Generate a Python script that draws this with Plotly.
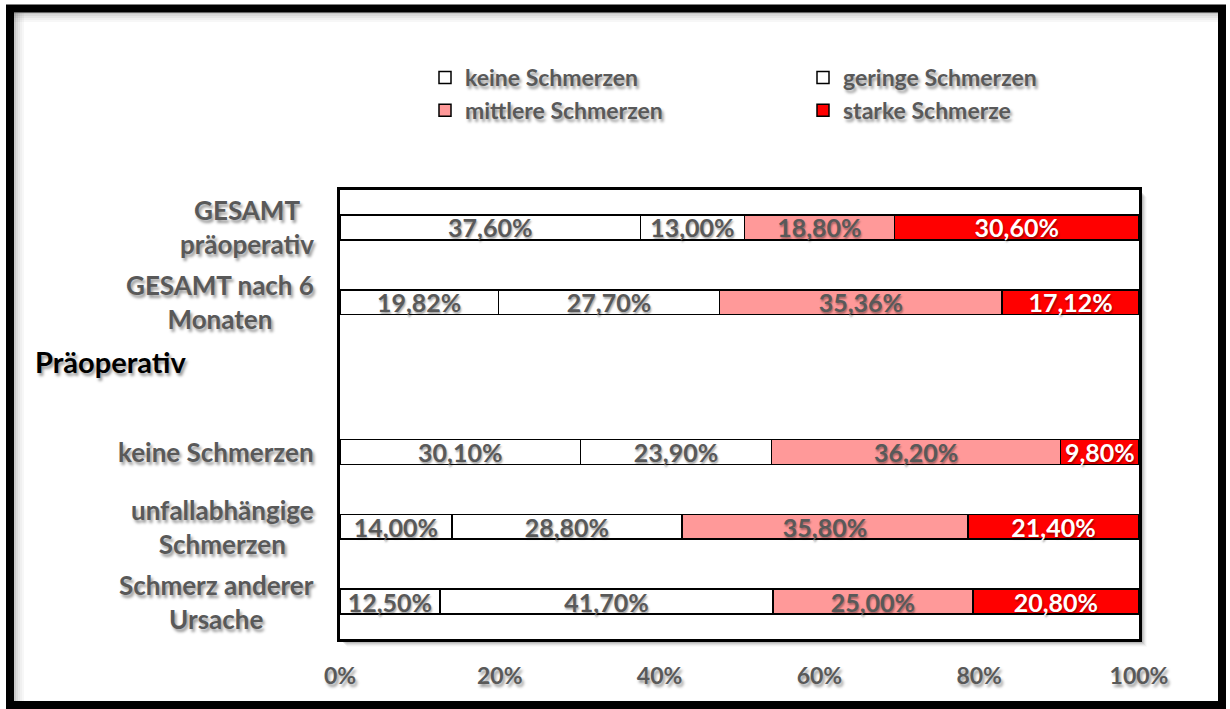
import plotly.graph_objects as go

# ---- data -------------------------------------------------------------
categories = [
    "GESAMT präoperativ",
    "GESAMT nach 6 Monaten",
    "Präoperativ",
    "keine Schmerzen",
    "unfallabhängige Schmerzen",
    "Schmerz anderer Ursache",
]
category_labels = [
    "GESAMT<br>präoperativ",
    "GESAMT nach 6<br>Monaten",
    "Präoperativ",
    "keine Schmerzen",
    "unfallabhängige<br>Schmerzen",
    "Schmerz anderer<br>Ursache",
]

keine_schmerzen = [37.60, 19.82, None, 30.10, 14.00, 12.50]
geringe_schmerzen = [13.00, 27.70, None, 23.90, 28.80, 41.70]
mittlere_schmerzen = [18.80, 35.36, None, 36.20, 35.80, 25.00]
starke_schmerzen = [30.60, 17.12, None, 9.80, 21.40, 20.80]

series_names = ["keine Schmerzen", "geringe Schmerzen", "mittlere Schmerzen", "starke Schmerze"]
series_values = [keine_schmerzen, geringe_schmerzen, mittlere_schmerzen, starke_schmerzen]

tick_values = [0, 20, 40, 60, 80, 100]
tick_labels = ["0%", "20%", "40%", "60%", "80%", "100%"]

# ---- style --------------------------------------------------------------
W, H = 1230, 709
L, R, T, B = 340, 1139, 190, 639          # plot area in pixels
PW, PH = R - L, B - T

FONT = "Lato, 'Open Sans', sans-serif"
GRAY = "#595959"
SHADOW = "2px 3px 3px rgba(0,0,0,0.40)"
fill_colors = ["#FFFFFF", "#FFFFFF", "#FF9999", "#FF0000"]
text_colors = [GRAY, GRAY, GRAY, "#FFFFFF"]


def px_x(px):
    return (px - L) / PW


def px_y(py):
    return (B - py) / PH


def fmt(v):
    return "" if v is None else f"{v:.2f}".replace(".", ",") + "%"


fig = go.Figure()
for name, vals, fc, tc in zip(series_names, series_values, fill_colors, text_colors):
    fig.add_trace(go.Bar(
        y=categories,
        x=vals,
        name=name,
        orientation="h",
        width=0.33,
        marker=dict(color=fc, line=dict(color="#000000", width=1.5)),
        text=[fmt(v) for v in vals],
        textposition="inside",
        insidetextanchor="middle",
        constraintext="none",
        textangle=0,
        textfont=dict(family=FONT, size=25, color=tc, weight="bold",
                      shadow="1px 2px 2px rgba(0,0,0,0.35)"),
        hoverinfo="skip",
    ))

shapes = []
# drop shadow of the plot frame, then white plot background
for i, op in enumerate([0.10, 0.08, 0.06, 0.04, 0.02]):
    d = i + 2
    shapes.append(dict(type="rect", xref="paper", yref="paper", layer="below",
                       x0=px_x(L + d + 1), x1=px_x(R + d + 2),
                       y0=px_y(T + d + 1), y1=px_y(B + d + 2),
                       line=dict(width=0), fillcolor=f"rgba(0,0,0,{op})"))
shapes.append(dict(type="rect", xref="paper", yref="paper", layer="below",
                   x0=0, x1=1, y0=0, y1=1, line=dict(width=0), fillcolor="#FFFFFF"))

# outer frame with a soft inner shade along the top and left edge
for i, op in enumerate([0.22, 0.15, 0.10, 0.06, 0.03]):
    d = 14 + 2 * i
    shapes.append(dict(type="line", xref="paper", yref="paper", layer="below",
                       x0=px_x(14), x1=px_x(1218), y0=px_y(d - 1), y1=px_y(d - 1),
                       line=dict(color=f"rgba(0,0,0,{op})", width=2)))
    shapes.append(dict(type="line", xref="paper", yref="paper", layer="below",
                       x0=px_x(d + 1), x1=px_x(d + 1), y0=px_y(13), y1=px_y(702),
                       line=dict(color=f"rgba(0,0,0,{op})", width=2)))
shapes.append(dict(type="rect", xref="paper", yref="paper", layer="above",
                   x0=px_x(10), x1=px_x(1222), y0=px_y(8.5), y1=px_y(705),
                   line=dict(color="#000000", width=8), fillcolor="rgba(0,0,0,0)"))

annotations = []
label_offsets = [0, 0, 16, 0, 0, 0]
for cat, lab, dy in zip(categories, category_labels, label_offsets):
    if cat == "Präoperativ":
        annotations.append(dict(
            xref="paper", yref="y", x=px_x(33), y=cat, xanchor="left", yanchor="middle",
            text=lab, showarrow=False, yshift=dy,
            font=dict(family=FONT, size=29, color="#000000", weight="bold", shadow=SHADOW)))
    else:
        annotations.append(dict(
            xref="paper", yref="y", x=px_x(316), y=cat, xanchor="right", yanchor="middle",
            text=lab, showarrow=False, align="center", yshift=dy,
            font=dict(family=FONT, size=26, color=GRAY, weight="bold", shadow=SHADOW)))

fig.update_layout(
    width=W, height=H,
    margin=dict(l=L, r=W - R, t=T, b=H - B, pad=0),
    paper_bgcolor="#FFFFFF",
    plot_bgcolor="rgba(0,0,0,0)",
    barmode="stack",
    bargap=0.67,
    showlegend=True,
    legend=dict(
        orientation="h",
        x=px_x(425), y=px_y(56), xanchor="left", yanchor="top",
        entrywidth=333, entrywidthmode="pixels",
        traceorder="normal",
        bgcolor="rgba(0,0,0,0)",
        font=dict(family=FONT, size=23, color=GRAY, weight="bold", shadow=SHADOW),
        itemclick=False, itemdoubleclick=False,
    ),
    xaxis=dict(
        range=[0, 100], tickvals=tick_values, ticktext=tick_labels,
        showgrid=False, zeroline=False, ticks="",
        showline=True, mirror=True, linecolor="#000000", linewidth=3,
        ticklabelstandoff=14,
        tickfont=dict(family=FONT, size=23, color=GRAY, weight="bold", shadow=SHADOW),
        fixedrange=True,
    ),
    yaxis=dict(
        categoryorder="array", categoryarray=categories, autorange="reversed",
        showticklabels=False, showgrid=False, zeroline=False, ticks="",
        showline=True, mirror=True, linecolor="#000000", linewidth=3,
        fixedrange=True,
    ),
    shapes=shapes,
    annotations=annotations,
)

fig.write_html("out.html", config={"displayModeBar": False})
